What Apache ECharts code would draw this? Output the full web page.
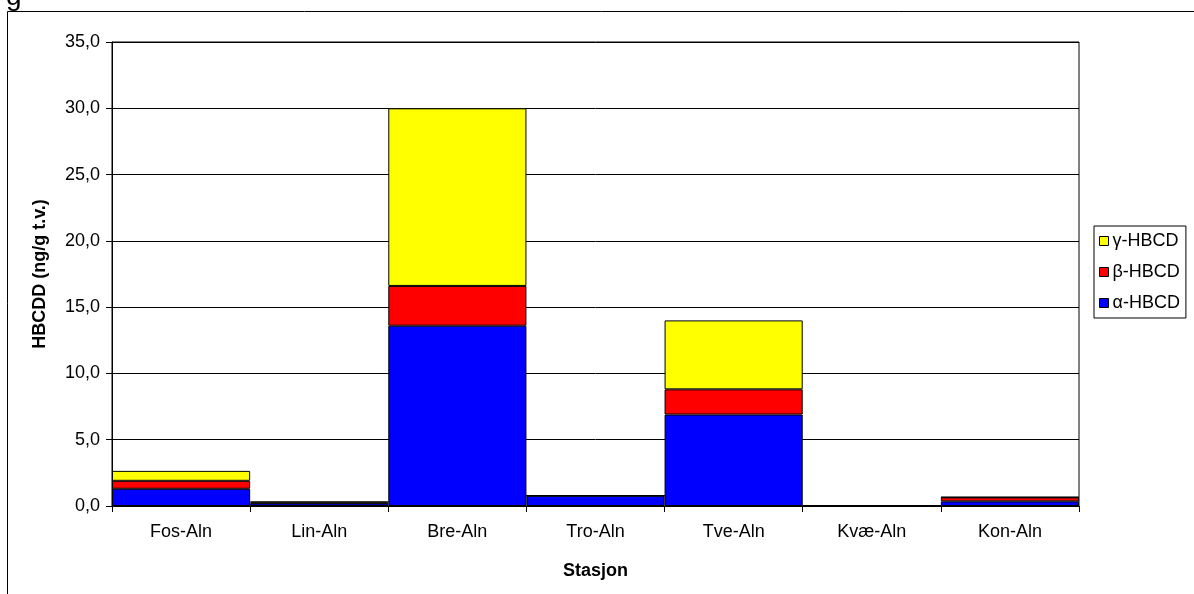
<!DOCTYPE html>
<html>
<head>
<meta charset="utf-8">
<script src="https://cdn.jsdelivr.net/npm/echarts@6/dist/echarts.min.js"></script>
<style>
html,body{margin:0;padding:0;background:#fff;}
#c{width:1194px;height:594px;}
</style>
</head>
<body>
<div id="c"></div>
<script>
const categories = ['Fos-Aln','Lin-Aln','Bre-Aln','Tro-Aln','Tve-Aln','Kvæ-Aln','Kon-Aln'];
const alpha = [1.3, 0.2, 13.6, 0.78, 6.9, 0, 0.35];
const beta  = [0.6, 0.05, 3.0, 0, 1.9, 0, 0.3];
const gamma = [0.75, 0.1, 13.4, 0, 5.2, 0, 0.03];
const seriesNames = ['α-HBCD','β-HBCD','γ-HBCD'];
const legendOrder = ['γ-HBCD','β-HBCD','α-HBCD'];
const yTicks = {min: 0, max: 35, interval: 5};

const font = 'Liberation Sans, Arial, sans-serif';
const chart = echarts.init(document.getElementById('c'), null, {renderer: 'canvas'});
const mk = (name, data, color) => ({
  name, type: 'bar', stack: 'tot', data, barCategoryGap: '0%',
  itemStyle: {color, borderColor: '#000', borderWidth: 1},
  emphasis: {disabled: true}
});
chart.setOption({
  animation: false,
  backgroundColor: '#fff',
  textStyle: {fontFamily: font},
  grid: {left: 112, right: 115, top: 42, bottom: 88, show: true, borderColor: '#000', borderWidth: 1, backgroundColor: 'transparent'},
  legend: {
    data: legendOrder.map(n => ({name: n, icon: 'rect', itemStyle: {borderColor: '#000', borderWidth: 1}})),
    orient: 'vertical', left: 1094, top: 226, itemWidth: 9, itemHeight: 9, itemGap: 11,
    padding: [5, 6, 5, 5], borderColor: '#000', borderWidth: 1,
    textStyle: {fontFamily: font, fontSize: 18, color: '#000', padding: [0, 0, 0, -1], lineHeight: 20}
  },
  xAxis: {
    type: 'category', data: categories,
    axisLine: {lineStyle: {color: '#000', width: 1}},
    axisTick: {show: true, length: 6, lineStyle: {color: '#000'}, alignWithLabel: false},
    axisLabel: {color: '#000', fontSize: 18, fontFamily: font, margin: 17},
    name: 'Stasjon', nameLocation: 'middle', nameGap: 56,
    nameTextStyle: {fontWeight: 'bold', fontSize: 18, color: '#000', fontFamily: font}
  },
  yAxis: {
    type: 'value', min: yTicks.min, max: yTicks.max, interval: yTicks.interval,
    axisLine: {show: true, lineStyle: {color: '#000', width: 1}},
    axisTick: {show: true, length: 6, lineStyle: {color: '#000'}},
    splitLine: {show: true, lineStyle: {color: '#000', width: 1}},
    axisLabel: {color: '#000', fontSize: 18, fontFamily: font, margin: 12,
      formatter: v => v.toFixed(1).replace('.', ',')},
    name: 'HBCDD (ng/g t.v.)', nameLocation: 'middle', nameGap: 63,
    nameTextStyle: {fontWeight: 'bold', fontSize: 18, color: '#000', fontFamily: font}
  },
  series: [
    mk(seriesNames[0], alpha, '#0000FF'),
    mk(seriesNames[1], beta, '#FF0000'),
    mk(seriesNames[2], gamma, '#FFFF00')
  ],
  graphic: [
    {type: 'rect', shape: {x: 7.5, y: 11.5, width: 1200, height: 600}, style: {fill: 'none', stroke: '#000', lineWidth: 1}, z: -1},
    {type: 'text', x: 6, y: -17, style: {text: 'g', font: '28px Liberation Sans', fill: '#000'}}
  ]
});
</script>
</body>
</html>
